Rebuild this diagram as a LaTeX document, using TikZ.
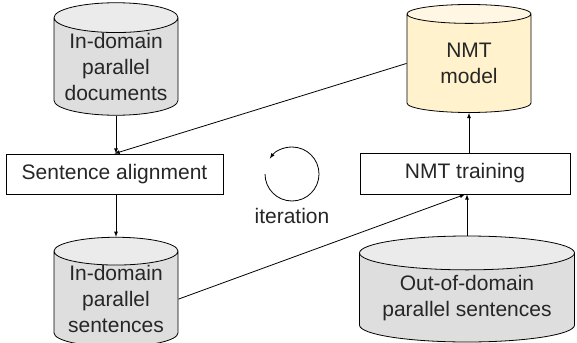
\documentclass[tikz,border=0pt]{standalone}
\usepackage{fontspec}
\setmainfont{Liberation Sans}
\usetikzlibrary{shapes.geometric,arrows}
\definecolor{dbgray}{HTML}{DEDEDE}
\definecolor{dbtop}{HTML}{EBEBEB}
\definecolor{mdlbody}{HTML}{FFF2CC}
\definecolor{mdltop}{HTML}{FFF7E3}
\tikzset{t/.style={font=\fontsize{21}{26}\selectfont, text=black!85}}
\tikzset{db/.style={t, draw, cylinder, shape border rotate=90, cylinder uses custom fill,
  cylinder body fill=dbgray, cylinder end fill=dbtop, align=center, inner sep=0pt,
  anchor=shape center}}
\tikzset{proc/.style={t, draw, rectangle, inner sep=0pt}}

\begin{document}
\begin{tikzpicture}[x=1pt, y=-1pt, >=latex, line width=0.8pt]
  \useasboundingbox (0,0) rectangle (577,342);
  \node [db, minimum width=124pt, minimum height=112pt, aspect=0.29] (docs) at (116,59)
    {In-domain\\parallel\\documents};
  \node [proc, minimum width=217pt, minimum height=40pt] (align) at (114.5,174)
    {Sentence alignment};
  \node [db, minimum width=124pt, minimum height=98pt, aspect=0.29] (sents) at (116,292)
    {In-domain\\parallel\\sentences};
  \node [db, cylinder body fill=mdlbody, cylinder end fill=mdltop,
    minimum width=124pt, minimum height=108pt, aspect=0.33] (model) at (469,58.5)
    {NMT\\model};
  \node [proc, minimum width=210pt, minimum height=41pt] (train) at (465,173.5)
    {NMT training};
  \node [db, minimum width=215pt, minimum height=106pt, aspect=0.2] (ood) at (467,289)
    {Out-of-domain\\parallel sentences};
  \node [t] (iter) at (292,216) {iteration};
  \coordinate (loop) at (292,174);

  \draw [->] (docs.south) -- (docs.south |- align.north);
  \draw [->] (align.south -| sents.north) -- (sents.north);
  \draw [->] (model.west) -- (align.north);
  \draw [->] (sents.east) -- (train.south);
  \draw [->] (ood.north) -- (ood.north |- train.south);
  \draw [->] (train.north -| model.south) -- (model.south);
  \draw [->] (loop) ++(180:27) arc [start angle=180, end angle=-145, radius=27];
\end{tikzpicture}
\end{document}
